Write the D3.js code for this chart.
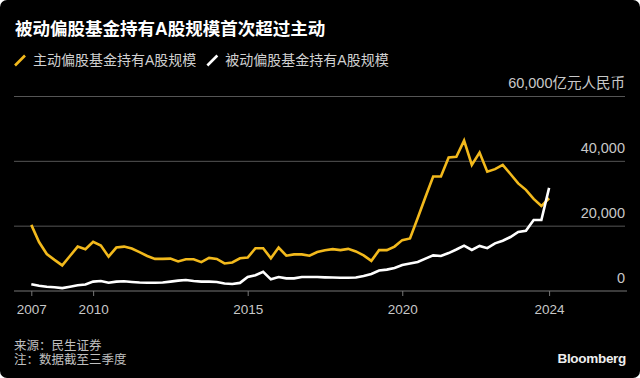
<!DOCTYPE html>
<html><head><meta charset="utf-8">
<script src="https://cdn.jsdelivr.net/npm/d3@7/dist/d3.min.js"></script>
<style>
html,body{margin:0;padding:0;background:#fff;}
#wrap{width:640px;height:378px;background:#000;border-radius:7px;overflow:hidden;}
svg{display:block;font-family:"Liberation Sans","Noto Sans CJK SC",sans-serif;}
</style></head>
<body><div id="wrap"></div>
<script>
const title = "被动偏股基金持有A股规模首次超过主动";
const seriesNames = ["主动偏股基金持有A股规模", "被动偏股基金持有A股规模"];
const seriesColors = ["#f2b91c", "#ffffff"];
const startYear = 2007, startQuarter = 4;
const activeValues = [20400,
 15100,11400,9600,7900, 10800,13700,12900,15200, 14000,10600,13400,13700,
 13100,12000,10800,9900, 9900,10000,9100,9800, 9800,8900,10200,9900,
 8500,8800,10100,10300, 13200,13200,10100,13400, 10900,11300,11300,10900,
 12000,12600,12900,12600, 13000,12200,11000,9300, 12600,12600,13700,15700,
 16200,22500,29000,35300, 35300,41200,41400,46400, 38900,42700,36800,37600,
 38900,36100,33200,31200, 28400,26200,28600];
const passiveValues = [2100,
 1600,1300,1150,900, 1300,1750,2000,2900, 3100,2550,2900,3000,
 2800,2600,2550,2550, 2600,2900,3200,3400, 3100,2900,2900,2800,
 2300,2150,2500,4300, 4850,5950,3600,4300, 3900,3900,4300,4300,
 4300,4200,4150,4100, 4100,4150,4600,5250, 6300,6600,7100,8000,
 8500,8950,10000,11000, 10800,11700,12800,14000, 12650,13900,13200,14700,
 15500,16650,18200,18600, 21900,21900,31800];
const xTickValues = [2008.0, 2010, 2015, 2020, 2024.75];
const xTickLabels = ["2007", "2010", "2015", "2020", "2024"];
const yTickValues = [0, 20000, 40000, 60000];
const yTickLabels = ["0", "20,000", "40,000", "60,000亿元人民币"];
const sourceLines = ["来源：民生证券", "注：数据截至三季度"];
const brand = "Bloomberg";

// quarter-end positions as decimal years
const quarters = activeValues.map((_, i) => {
  const q = startQuarter - 1 + i;
  return startYear + Math.floor(q / 4) + ((q % 4) + 1) / 4;
});

const W = 640, H = 378;
const svg = d3.select("#wrap").append("svg").attr("width", W).attr("height", H);

const x = d3.scaleLinear().domain([2007.44, 2027.27]).range([14, 627]);
const y = d3.scaleLinear().domain([0, 60000]).range([291, 96.5]);

// title
svg.append("text").attr("x", 15).attr("y", 35).attr("fill", "#fff")
  .attr("font-size", 17.5).attr("font-weight", "bold").text(title);

// legend
let lx = 15;
seriesNames.forEach((n, i) => {
  svg.append("line").attr("x1", lx).attr("y1", 65.5).attr("x2", lx + 10).attr("y2", 55.5)
    .attr("stroke", seriesColors[i]).attr("stroke-width", 2.6).attr("stroke-linecap", "butt");
  const t = svg.append("text").attr("x", lx + 18).attr("y", 65).attr("fill", "#d0d0d0")
    .attr("font-size", 14).text(n);
  lx = lx + 18 + t.node().getComputedTextLength() + 11;
});

// gridlines
svg.append("g").selectAll("line").data(yTickValues.filter(v => v > 0)).join("line")
  .attr("x1", 14).attr("x2", 625).attr("y1", d => y(d)).attr("y2", d => y(d))
  .attr("stroke", "#555").attr("stroke-width", 1);

// y labels
svg.append("g").selectAll("text").data(yTickValues).join("text")
  .attr("x", 625).attr("y", d => y(d) - 8.5).attr("text-anchor", "end")
  .attr("fill", "#c8c8c8").attr("font-size", 14.5)
  .text((d, i) => yTickLabels[i]);

// x axis
const xAxis = d3.axisBottom(x).tickValues(xTickValues)
  .tickFormat((d, i) => xTickLabels[i]).tickSize(5).tickPadding(8);
const gx = svg.append("g").attr("transform", `translate(0,${y(0)})`).call(xAxis);
gx.select(".domain").remove();
gx.selectAll(".tick line").attr("stroke", "#777");
gx.selectAll(".tick text").attr("fill", "#c8c8c8").attr("font-size", 13.5)
  .attr("font-family", "Liberation Sans, sans-serif");
svg.append("line").attr("x1", 14).attr("x2", 627).attr("y1", y(0)).attr("y2", y(0))
  .attr("stroke", "#777").attr("stroke-width", 1.2);

// lines
const line = d3.line().x((d, i) => x(quarters[i])).y(d => y(d));
[activeValues, passiveValues].forEach((vals, i) => {
  svg.append("path").datum(vals).attr("d", line).attr("fill", "none")
    .attr("stroke", seriesColors[i]).attr("stroke-width", 2.6)
    .attr("stroke-linejoin", "miter").attr("stroke-linecap", "butt");
});

// footer
svg.append("g").selectAll("text").data(sourceLines).join("text")
  .attr("x", 14).attr("y", (d, i) => 349.5 + i * 14.5).attr("fill", "#c0c0c0")
  .attr("font-size", 12.5).text(d => d);
svg.append("text").attr("x", 626).attr("y", 362.5).attr("text-anchor", "end")
  .attr("fill", "#eee").attr("font-size", 13.5).attr("font-weight", "bold")
  .attr("letter-spacing", -0.3).text(brand);
</script></body></html>
